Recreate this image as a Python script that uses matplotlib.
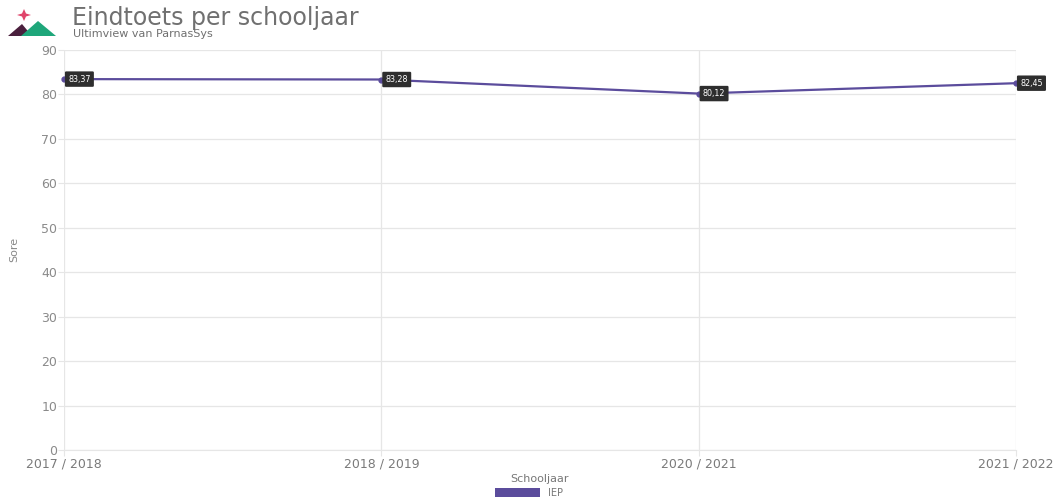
import matplotlib.pyplot as plt
from matplotlib.patches import Polygon, Rectangle

plt.rcParams["font.family"] = ["DejaVu Sans"]

schooljaren = ["2017 / 2018", "2018 / 2019", "2020 / 2021", "2021 / 2022"]
iep_scores = [83.37, 83.28, 80.12, 82.45]
y_ticks = [0, 10, 20, 30, 40, 50, 60, 70, 80, 90]

LINE = "#5b4c9c"
GRID = "#e6e6e6"
TICK = "#8a8a8a"

fig = plt.figure(figsize=(10.56, 4.99), dpi=100)
ax = fig.add_axes([0.0606, 0.098, 0.9015, 0.8026])

x = list(range(len(schooljaren)))
ax.plot(x, iep_scores, color=LINE, lw=1.6, marker="o", ms=3.5, zorder=3, clip_on=False)

for xi, v in zip(x, iep_scores):
    ax.annotate(f"{v:.2f}".replace(".", ","), (xi, v), xytext=(3, 0),
                textcoords="offset points", ha="left", va="center",
                fontsize=5.8, color="white", zorder=4, annotation_clip=False,
                bbox=dict(boxstyle="round,pad=0.4,rounding_size=0.15",
                          fc="#2e2e2e", ec="none"))

ax.set_xlim(0, len(schooljaren) - 1)
ax.set_ylim(0, 90)
ax.set_xticks(x)
ax.set_xticklabels(schooljaren, fontsize=9, color="#7a7a7a")
ax.set_yticks(y_ticks)
ax.set_yticklabels([str(t) for t in y_ticks], fontsize=9, color=TICK)
ax.tick_params(axis="both", length=4, color=GRID, pad=1)
ax.grid(True, color=GRID, lw=0.9)
ax.set_axisbelow(True)
for side in ["top", "right", "left"]:
    ax.spines[side].set_visible(False)
ax.spines["bottom"].set_color(GRID)

ax.set_xlabel("Schooljaar", fontsize=8, color="#777777", labelpad=3)
ax.set_ylabel("Sore", fontsize=8, color="#888888", labelpad=16)

# legend
fig.patches.append(Rectangle((495 / 1056, 1 - 497 / 499), 45 / 1056, 9 / 499,
                             transform=fig.transFigure, fc=LINE, ec="none"))
fig.text(548 / 1056, 1 - 492.5 / 499, "IEP", fontsize=7, color="#777777", va="center")

# header
fig.text(72 / 1056, 1 - 18 / 499, "Eindtoets per schooljaar", fontsize=17,
         color="#707070", va="center")
fig.text(73 / 1056, 1 - 34 / 499, "Ultimview van ParnasSys", fontsize=8,
         color="#707070", va="center")

# logo
def px(pts):
    return [(a / 1056, 1 - b / 499) for a, b in pts]

fig.patches.append(Polygon(px([(8, 36), (22, 24), (32, 36)]),
                           transform=fig.transFigure, fc="#4a1f3d", ec="none"))
fig.patches.append(Polygon(px([(21, 36), (38, 21), (56, 36)]),
                           transform=fig.transFigure, fc="#1ea67a", ec="none"))
fig.patches.append(Polygon(px([(17, 15), (22, 13.5), (24, 9), (26, 13.5),
                               (31, 15), (26, 16.5), (24, 21), (22, 16.5)]),
                           transform=fig.transFigure, fc="#e0456b", ec="none"))

fig.savefig("out.png", dpi=100)
